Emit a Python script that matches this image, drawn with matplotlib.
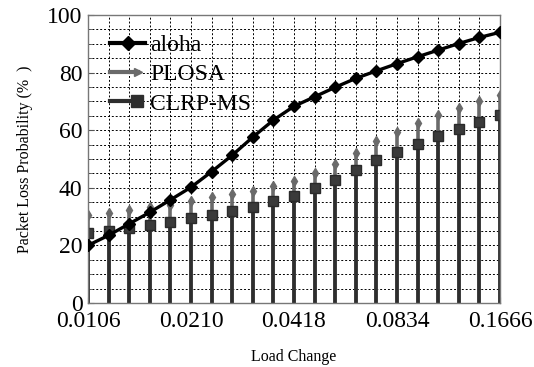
import matplotlib
matplotlib.use("Agg")
import matplotlib.pyplot as plt
from matplotlib.ticker import MultipleLocator, FixedLocator
from matplotlib.lines import Line2D
from matplotlib.legend_handler import HandlerLine2D
import numpy as np

plt.rcParams['font.family'] = ['Liberation Serif', 'DejaVu Serif']

tick_labels = ["0.0106", "0.0210", "0.0418", "0.0834", "0.1666"]
n_points = 21
aloha = [20, 23.5, 27.5, 31.5, 35.8, 40.2, 45.6, 51.3, 57.6, 63.5, 68.3,
         71.6, 74.9, 78.0, 80.6, 83.1, 85.5, 87.8, 90.1, 92.2, 94.0]
plosa = [30.5, 31.1, 32.3, 33.2, 34.0, 35.5, 36.7, 37.8, 39.0, 40.6, 42.5,
         45.0, 48.3, 52.1, 56.4, 59.3, 62.4, 65.3, 67.6, 70.1, 72.2]
clrp = [24.2, 25.1, 25.9, 27.0, 28.1, 29.4, 30.6, 31.9, 33.4, 35.4, 37.2,
        39.8, 42.7, 46.2, 49.8, 52.3, 55.2, 58.0, 60.4, 63.0, 65.3]

x = np.arange(n_points)


class EndHandler(HandlerLine2D):
    def __init__(self, frac=0.75, **kw):
        super().__init__(**kw)
        self.frac = frac

    def create_artists(self, legend, orig_handle, xdescent, ydescent, width,
                       height, fontsize, trans):
        arts = super().create_artists(legend, orig_handle, xdescent, ydescent,
                                      width, height, fontsize, trans)
        line = arts[0]
        xd = np.asarray(line.get_xdata(), dtype=float)
        yd = np.asarray(line.get_ydata(), dtype=float)
        x0, x1 = xd[0], xd[-1]
        xe = x0 + (x1 - x0) * self.frac
        line.set_data([x0, (x0 + xe) / 2, xe], [yd[0]] * 3)
        line.set_markevery([2])
        return arts


fig = plt.figure(figsize=(5.34, 3.67), dpi=100)
ax = fig.add_axes([88/534, 64/367, 412/534, 288/367])

# PLOSA stems
ml, sl, bl = ax.stem(x, plosa, basefmt=' ')
plt.setp(sl, color='#6a6a6a', linewidth=2.6)
plt.setp(ml, color='#6a6a6a', marker='d', markersize=5.5)
# CLRP-MS stems
ml2, sl2, bl2 = ax.stem(x, clrp, basefmt=' ')
plt.setp(sl2, color='#2e2e2e', linewidth=2.6)
plt.setp(ml2, color='#2e2e2e', marker='s', markersize=7.5,
         markeredgecolor='#2a2a2a', markerfacecolor='#3a3a3a')
# aloha line
ax.plot(x, aloha, color='black', linewidth=2.4, marker='D', markersize=6.5, zorder=5)

h1 = Line2D([], [], color='black', linewidth=3, marker='D', markersize=7)
h2 = Line2D([], [], color='#6a6a6a', linewidth=3, marker='>', markersize=6)
h3 = Line2D([], [], color='#2e2e2e', linewidth=3, marker='s', markersize=8)
leg = ax.legend([h1, h2, h3], ['aloha', 'PLOSA', 'CLRP-MS'], loc='upper left',
                frameon=False, fontsize=17, handlelength=1.5, handletextpad=0.2,
                labelspacing=0.33, borderaxespad=0.0,
                bbox_to_anchor=(0.03, 0.965),
                handler_map={h2: EndHandler(0.8), h3: EndHandler(0.78)})

ax.set_xlim(0, n_points - 1)
ax.set_ylim(0, 100)
ax.xaxis.set_major_locator(FixedLocator([0, 5, 10, 15, 20]))
ax.set_xticklabels(tick_labels)
ax.xaxis.set_minor_locator(MultipleLocator(1))
ax.yaxis.set_major_locator(MultipleLocator(20))
ax.yaxis.set_minor_locator(MultipleLocator(5))

ax.grid(True, which='both', color='black', linestyle=(0, (2, 2)), linewidth=0.7)
ax.set_axisbelow(True)
ax.tick_params(axis='both', which='both', direction='in', labelsize=17,
               color='#555555')
ax.tick_params(axis='x', which='both', pad=6)
ax.tick_params(axis='y', which='both', pad=4)
ax.tick_params(axis='both', which='major', length=4)
ax.tick_params(axis='both', which='minor', length=3)
for s in ax.spines.values():
    s.set_color('#777777')
    s.set_linewidth(1.0)

ax.set_xlabel('Load Change', fontsize=11.5, labelpad=12)
ax.set_ylabel('Packet Loss Probability (%  )', fontsize=11.5, labelpad=10)

fig.savefig('out.png', dpi=100)
